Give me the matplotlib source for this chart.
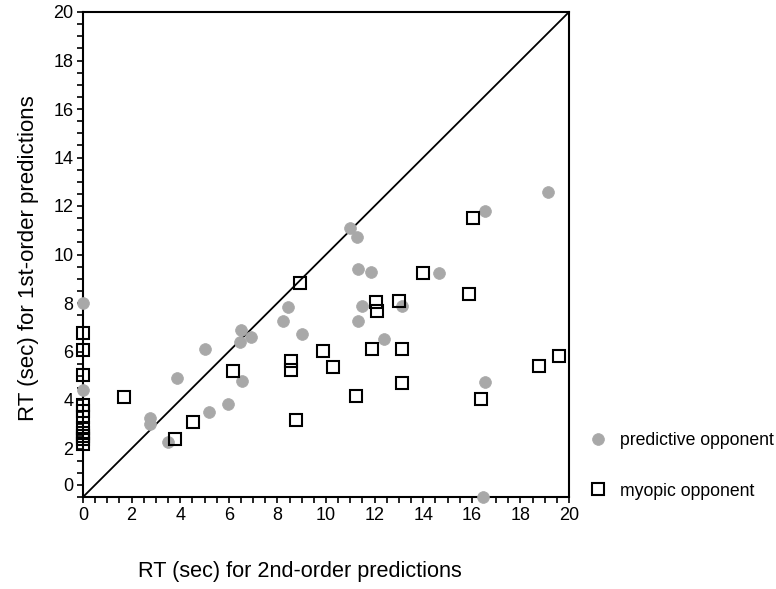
import matplotlib
matplotlib.use("Agg")
import matplotlib.pyplot as plt
import numpy as np

plt.rcParams['font.family'] = ['Liberation Sans', 'DejaVu Sans']

# predictive opponent (gray circles)
pred_x = [0, 0, 2.75, 2.75, 3.48, 3.85, 5.02, 5.19, 5.98, 6.46, 6.49, 6.54, 6.91,
          8.21, 8.45, 9.03, 10.99, 11.26, 11.33, 11.33, 11.47, 11.84, 12.4, 13.11,
          14.66, 16.54, 16.54, 16.47, 19.15]
pred_y = [8.0, 4.4, 3.25, 3.0, 2.25, 4.9, 6.1, 3.5, 3.85, 6.4, 6.9, 4.78, 6.58,
          7.26, 7.85, 6.72, 11.08, 10.73, 9.4, 7.26, 7.89, 9.29, 6.5, 7.88,
          9.22, 11.79, 4.75, 0.0, 12.56]

# myopic opponent (open squares)
myop_x = [0, 0, 0, 0, 0, 0, 0, 0, 0, 0, 0,
          1.69, 3.79, 4.51, 6.19, 8.56, 8.56, 8.77, 8.93, 9.86, 10.3, 11.23,
          11.89, 12.04, 12.11, 13.0, 13.11, 13.11, 14.0, 15.88, 16.03, 16.36,
          18.78, 19.58]
myop_y = [6.75, 6.05, 5.05, 3.8, 3.55, 3.3, 2.85, 2.65, 2.5, 2.4, 2.2,
          4.11, 2.38, 3.11, 5.2, 5.61, 5.24, 3.18, 8.84, 6.03, 5.37, 4.18,
          6.1, 8.03, 7.68, 8.1, 6.1, 4.71, 9.22, 8.36, 11.52, 4.03,
          5.41, 5.83]

x_ticks = [0, 2, 4, 6, 8, 10, 12, 14, 16, 18, 20]
y_tick_pos = [0.5, 2, 4, 6, 8, 10, 12, 14, 16, 18, 20]
y_tick_labels = ['0', '2', '4', '6', '8', '10', '12', '14', '16', '18', '20']

fig = plt.figure(figsize=(7.76, 5.89), dpi=100)
ax = fig.add_axes([83/776, 92/589, 486/776, 485/589])

ax.plot([0, 20], [0, 20], color='black', lw=1.3, zorder=2)
ax.plot(pred_x, pred_y, linestyle='none', marker='o', markersize=8.5,
        markerfacecolor='#a8a8a8', markeredgecolor='#a8a8a8', markeredgewidth=0.5,
        clip_on=False, zorder=3, label='predictive opponent')
ax.plot(myop_x, myop_y, linestyle='none', marker='s', markersize=8,
        markerfacecolor='none', markeredgecolor='black', markeredgewidth=1.5,
        clip_on=False, zorder=4, label='myopic opponent')

ax.set_xlim(0, 20)
ax.set_ylim(0, 20)
ax.set_xticks(x_ticks)
ax.set_xticklabels([str(t) for t in x_ticks])
ax.set_yticks(y_tick_pos)
ax.set_yticklabels(y_tick_labels)
ax.set_xticks(np.arange(0, 20.01, 0.5), minor=True)
ax.set_yticks(np.arange(0, 20.01, 0.5), minor=True)
ax.tick_params(which='both', direction='out', length=4.5, width=1.2, colors='black')
ax.tick_params(which='major', labelsize=13, pad=2.5)
for s in ax.spines.values():
    s.set_linewidth(1.5)

fig.text(300/776, 1 - 571/589, 'RT (sec) for 2nd-order predictions', fontsize=15.6,
         ha='center', va='center')
fig.text(29/776, 1 - 258/589, 'RT (sec) for 1st-order predictions', fontsize=16,
         ha='center', va='center', rotation=90)

leg = fig.legend(loc='upper left', bbox_to_anchor=(587/776, 1 - 432/589),
                 frameon=False, fontsize=12.7, labelspacing=1.9, handletextpad=0.65,
                 handlelength=1.2, borderaxespad=0, borderpad=0)

fig.savefig('out.png', dpi=100)
